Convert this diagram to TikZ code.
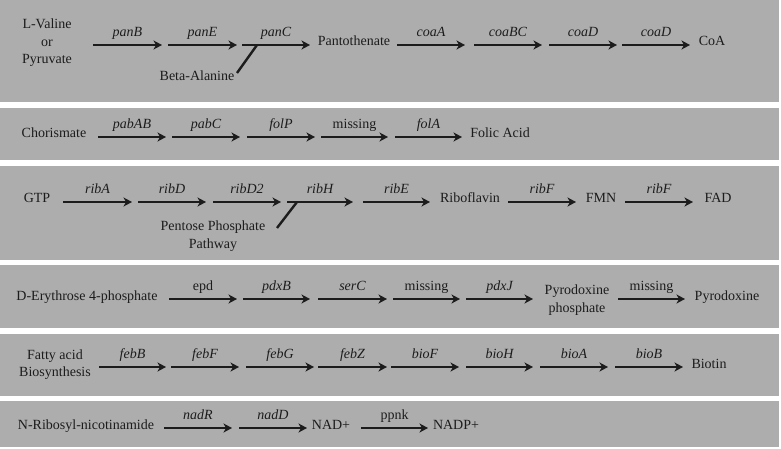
\documentclass[tikz,border=0pt]{standalone}
\usepackage{fontspec}
\setmainfont{Liberation Serif}
\newfontfamily\tnr{Liberation Serif}
\usetikzlibrary{arrows.meta}
\definecolor{panelgray}{HTML}{ADADAD}
\definecolor{ink}{HTML}{1C1C1C}
\tikzset{
  panel/.style={fill=panelgray, draw=none},
  arr/.style={draw=ink, line width=2.4pt, -{Stealth[length=8.5pt,width=9pt,inset=2.5pt]}},
  lab/.style={midway, anchor=base, yshift=8.5pt, inner sep=0pt, text=ink, font=\tnr\fontsize{14}{17}\selectfont\itshape},
  ulab/.style={midway, anchor=base, yshift=8.5pt, inner sep=0pt, text=ink, font=\tnr\fontsize{14}{17}\selectfont},
  txt/.style={inner sep=0pt, text=ink, text height=10pt, text depth=3pt, font=\tnr\fontsize{14}{17}\selectfont},
  mtxt/.style={inner sep=0pt, text=ink, align=center, font=\tnr\fontsize{14}{17.5}\selectfont},
  side/.style={draw=ink, line width=2.4pt}
}
\newcommand\garrow[6][lab]{%
  \coordinate (#2s) at (#3,#5);
  \coordinate (#2e) at (#4,#5);
  \draw[arr] (#2s) -- node[#1]{#6} (#2e);}
\begin{document}
\begin{tikzpicture}[x=1pt,y=-1pt]
\fill[white] (0,0) rectangle (781,449);
\useasboundingbox (0,0) rectangle (781,449);
% panels
\fill[panel] (0,0) rectangle (779,102);
\fill[panel] (0,108) rectangle (779,160);
\fill[panel] (0,166) rectangle (779,260);
\fill[panel] (0,265) rectangle (779,328);
\fill[panel] (0,334) rectangle (779,396);
\fill[panel] (0,401) rectangle (779,447);

% ---- Row 1: CoA
\node[mtxt] (lval) at (47,43) {L-Valine\\or\\Pyruvate};
\garrow{a1}{93}{162}{45}{panB}
\garrow{a2}{168}{237}{45}{panE}
\garrow{a3}{242}{310}{45}{panC}
\node[txt] (pant) at (354,42.5) {Pantothenate};
\garrow{a4}{397}{465}{45}{coaA}
\garrow{a5}{474}{542}{45}{coaBC}
\garrow{a6}{549}{617}{45}{coaD}
\garrow{a7}{622}{690}{45}{coaD}
\node[txt] (coa) at (712,42.5) {CoA};
\node[txt] (beta) at (197,77) {Beta-Alanine};
\coordinate (b1) at (237,73);
\coordinate (b2) at (257,45);
\draw[side] (b1) -- (b2);

% ---- Row 2: Folic acid
\node[txt] (chor) at (54,134.5) {Chorismate};
\garrow{c1}{98}{166}{137}{pabAB}
\garrow{c2}{172}{240}{137}{pabC}
\garrow{c3}{247}{315}{137}{folP}
\garrow[ulab]{c4}{321}{388}{137}{missing}
\garrow{c5}{395}{462}{137}{folA}
\node[txt] (fol) at (500,134.5) {Folic Acid};

% ---- Row 3: Riboflavin
\node[txt] (gtp) at (37,199.5) {GTP};
\garrow{d1}{63}{132}{202}{ribA}
\garrow{d2}{138}{206}{202}{ribD}
\garrow{d3}{213}{281}{202}{ribD2}
\garrow{d4}{287}{353}{202}{ribH}
\garrow{d5}{363}{430}{202}{ribE}
\node[txt] (ribo) at (470,199.5) {Riboflavin};
\garrow{d6}{508}{576}{202}{ribF}
\node[txt] (fmn) at (601,199.5) {FMN};
\garrow{d7}{625}{693}{202}{ribF}
\node[txt] (fad) at (718,199.5) {FAD};
\node[mtxt] (ppp) at (213,236) {Pentose Phosphate\\Pathway};
\coordinate (p1) at (277,228);
\coordinate (p2) at (297,202);
\draw[side] (p1) -- (p2);

% ---- Row 4: Pyridoxine
\node[txt] (dery) at (87,296.5) {D-Erythrose 4-phosphate};
\garrow[ulab]{e1}{169}{237}{299}{epd}
\garrow{e2}{243}{310}{299}{pdxB}
\garrow{e3}{318}{387}{299}{serC}
\garrow[ulab]{e4}{393}{460}{299}{missing}
\garrow{e5}{466}{533}{299}{pdxJ}
\node[mtxt] (pyrp) at (577,300) {Pyrodoxine\\phosphate};
\garrow[ulab]{e6}{618}{685}{299}{missing}
\node[txt] (pyr) at (727,296.5) {Pyrodoxine};

% ---- Row 5: Biotin
\node[mtxt] (fatty) at (55,364.5) {Fatty acid\\Biosynthesis};
\garrow{f1}{99}{166}{367}{febB}
\garrow{f2}{171}{239}{367}{febF}
\garrow{f3}{246}{314}{367}{febG}
\garrow{f4}{318}{387}{367}{febZ}
\garrow{f5}{391}{459}{367}{bioF}
\garrow{f6}{466}{533}{367}{bioH}
\garrow{f7}{540}{608}{367}{bioA}
\garrow{f8}{615}{683}{367}{bioB}
\node[txt] (biot) at (709,364.5) {Biotin};

% ---- Row 6: NAD
\node[txt] (nrib) at (86,425.5) {N-Ribosyl-nicotinamide};
\garrow{g1}{164}{232}{428}{nadR}
\garrow{g2}{239}{307}{428}{nadD}
\node[txt] (nad) at (331,425.5) {NAD+};
\garrow[ulab]{g3}{361}{428}{428}{ppnk}
\node[txt] (nadp) at (456,425.5) {NADP+};
\end{tikzpicture}
\end{document}
